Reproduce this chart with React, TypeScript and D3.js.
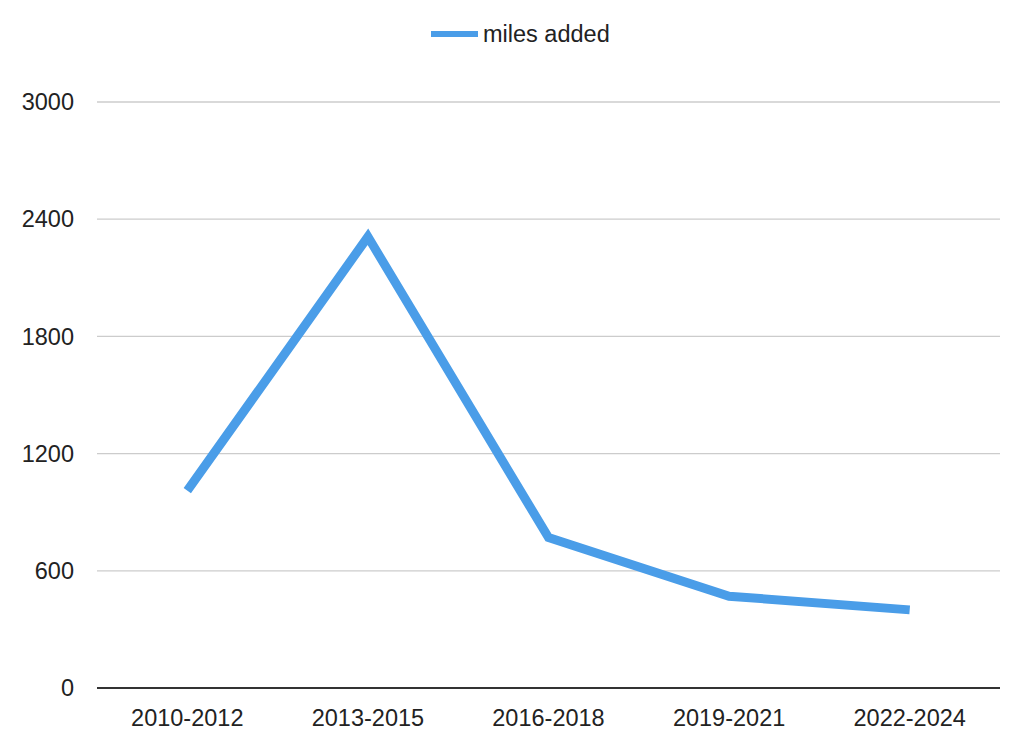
import React from "react";
import * as d3 from "d3";

const categories = ["2010-2012", "2013-2015", "2016-2018", "2019-2021", "2022-2024"];
const milesAdded = [1010, 2310, 770, 470, 400];
const yTicks = [0, 600, 1200, 1800, 2400, 3000];
const seriesName = "miles added";

export default function App() {
  const width = 1024;
  const height = 751;
  const left = 97;
  const right = 1000;
  const top = 102;
  const bottom = 688;
  const color = "#4a9de8";

  const x = d3.scaleBand<string>().domain(categories).range([left, right]);
  const y = d3.scaleLinear().domain([0, 3000]).range([bottom, top]);
  const line = d3
    .line<number>()
    .x((_, i) => (x(categories[i]) as number) + x.bandwidth() / 2)
    .y((d) => y(d));

  const font = "'Liberation Sans', Arial, Helvetica, sans-serif";
  const fs = 23.5;

  return (
    <svg
      width={width}
      height={height}
      style={{ position: "absolute", left: 0, top: 0, background: "#fff" }}
    >
      <rect x={0} y={0} width={width} height={height} fill="#fff" />
      {yTicks.map((t) =>
        t === 0 ? null : (
          <line key={t} x1={left} x2={right} y1={y(t)} y2={y(t)} stroke="#cccccc" strokeWidth={1.3} />
        )
      )}
      {yTicks.map((t) => (
        <text
          key={"l" + t}
          x={74}
          y={y(t)}
          dy="0.35em"
          textAnchor="end"
          fontFamily={font}
          fontSize={fs}
          fill="#222"
        >
          {t}
        </text>
      ))}
      <line x1={left} x2={right} y1={bottom} y2={bottom} stroke="#333" strokeWidth={2} />
      {categories.map((c) => (
        <text
          key={c}
          x={(x(c) as number) + x.bandwidth() / 2}
          y={718}
          dy="0.35em"
          textAnchor="middle"
          fontFamily={font}
          fontSize={fs}
          fill="#222"
        >
          {c}
        </text>
      ))}
      <path
        d={line(milesAdded) || ""}
        fill="none"
        stroke={color}
        strokeWidth={9}
        strokeLinejoin="miter"
        strokeLinecap="butt"
      />
      <line x1={431} x2={478} y1={34} y2={34} stroke={color} strokeWidth={6} />
      <text x={483} y={34} dy="0.35em" fontFamily={font} fontSize={fs} fill="#222">
        {seriesName}
      </text>
    </svg>
  );
}
